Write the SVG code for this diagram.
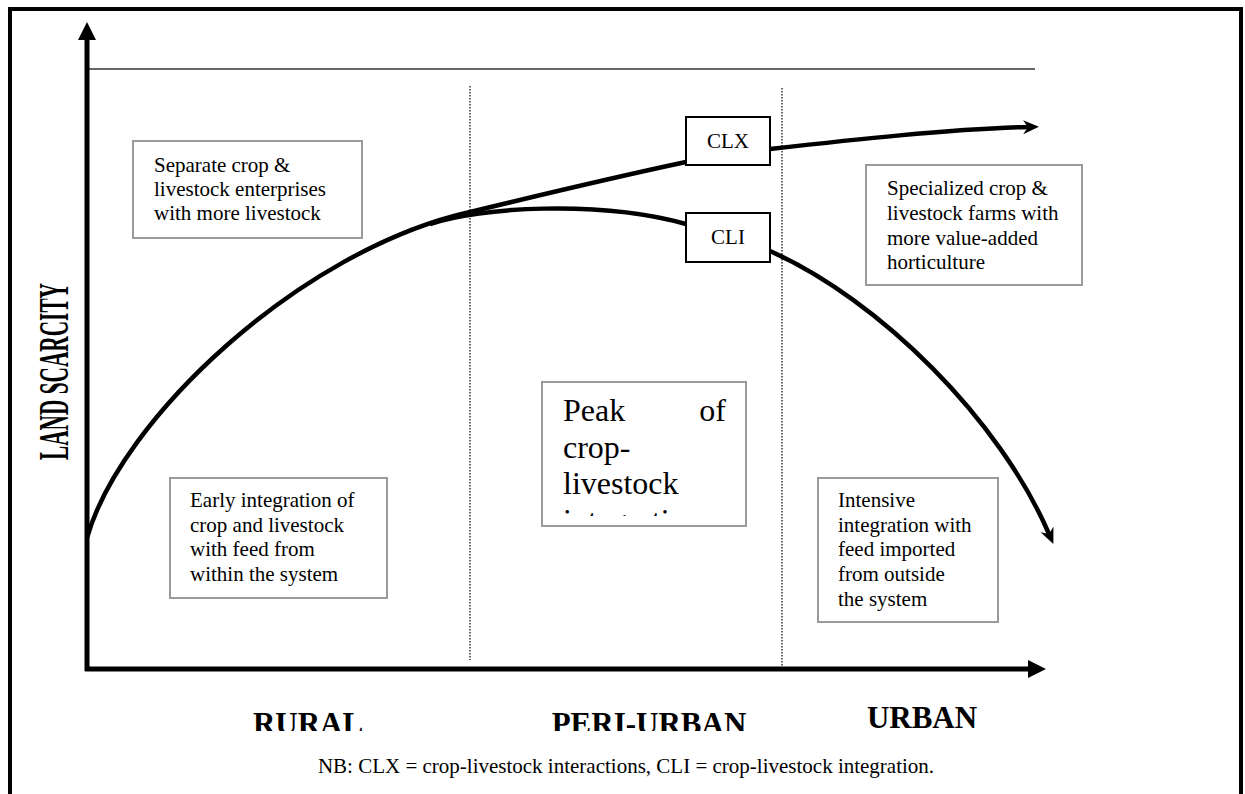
<svg xmlns="http://www.w3.org/2000/svg" width="1245" height="794" viewBox="0 0 1245 794">
  <style>
    text { font-family: "Liberation Serif", "Times New Roman", serif; fill: #000; }
    .body { font-size: 21px; }
    .zone { font-weight: bold; font-size: 31px; text-anchor: middle; }
    .note { fill: #fff; stroke: #9a9a9a; stroke-width: 2; }
    .tag { fill: #fff; stroke: #000; stroke-width: 2; }
    .tagtxt { font-size: 21px; text-anchor: middle; }
    .curve { fill: none; stroke: #000; stroke-width: 4.5; }
    .axis { stroke: #000; stroke-width: 5; fill: none; }
    .divider { stroke: #333; stroke-width: 1.5; stroke-dasharray: 1.5 1.5; }
  </style>
  <defs>
    <marker id="stealth" markerUnits="userSpaceOnUse" markerWidth="18" markerHeight="16" viewBox="0 0 18 16" refX="5" refY="7" orient="auto">
      <path d="M0,0 L16,7 L0,14 L5,7 z" fill="#000"/>
    </marker>
    <clipPath id="peakClip">
      <rect x="542" y="382" width="204" height="134"/>
    </clipPath>
    <clipPath id="zoneClip">
      <rect x="0" y="690" width="1245" height="41"/>
    </clipPath>
  </defs>

  <rect width="1245" height="794" fill="#fff"/>

  <!-- page frame -->
  <path d="M10,794 V9 H1241 V794" fill="none" stroke="#000" stroke-width="4"/>

  <!-- axes and guide lines -->
  <g id="axes">
    <line x1="87" y1="69" x2="1035" y2="69" stroke="#333" stroke-width="1.5"/>
    <line class="divider" x1="470" y1="86" x2="470" y2="660"/>
    <line class="divider" x1="782" y1="88" x2="782" y2="668"/>
    <line class="axis" x1="87" y1="671" x2="87" y2="38"/>
    <polygon points="78,40 96,40 87,22" fill="#000"/>
    <line class="axis" x1="85" y1="669" x2="1030" y2="669"/>
    <polygon points="1028,660 1028,678 1046,669" fill="#000"/>
    <text transform="translate(68,371.5) rotate(-90)" text-anchor="middle" font-size="42" font-weight="bold" textLength="177" lengthAdjust="spacingAndGlyphs">LAND SCARCITY</text>
  </g>

  <!-- trajectories -->
  <g id="connectors">
    <path id="clx-curve" class="curve" marker-end="url(#stealth)"
          d="M87,538 C120,420 300,250 470,212 C540,195 620,176 686,162 L770,149 C850,140 950,129 1028,127"/>
    <path id="cli-curve" class="curve" marker-end="url(#stealth)"
          d="M430,224 C480,207 600,200 686,224 L770,251 C880,300 1000,420 1049,534"/>
  </g>

  <!-- curve tags -->
  <g id="clx">
    <rect class="tag" x="686" y="117" width="84" height="48"/>
    <text class="tagtxt" x="728" y="148">CLX</text>
  </g>
  <g id="cli">
    <rect class="tag" x="686" y="213" width="84" height="49"/>
    <text class="tagtxt" x="728" y="244">CLI</text>
  </g>

  <!-- stage notes -->
  <g id="separate">
    <rect class="note" x="133" y="141" width="229" height="97"/>
    <text class="body" x="154" y="172">Separate crop &amp;</text>
    <text class="body" x="154" y="196">livestock enterprises</text>
    <text class="body" x="154" y="220">with more livestock</text>
  </g>
  <g id="early">
    <rect class="note" x="170" y="478" width="217" height="120"/>
    <text class="body" x="190" y="507">Early integration of</text>
    <text class="body" x="190" y="532">crop and livestock</text>
    <text class="body" x="190" y="556">with feed from</text>
    <text class="body" x="190" y="581">within the system</text>
  </g>
  <g id="peak">
    <rect class="note" x="542" y="382" width="204" height="144"/>
    <g clip-path="url(#peakClip)" font-size="32">
      <text x="563" y="421">Peak</text>
      <text x="726" y="421" text-anchor="end">of</text>
      <text x="563" y="458">crop-</text>
      <text x="563" y="494">livestock</text>
      <text x="563" y="531">integration</text>
    </g>
  </g>
  <g id="specialized">
    <rect class="note" x="866" y="165" width="216" height="120"/>
    <text class="body" x="887" y="195">Specialized crop &amp;</text>
    <text class="body" x="887" y="220">livestock farms with</text>
    <text class="body" x="887" y="245">more value-added</text>
    <text class="body" x="887" y="269">horticulture</text>
  </g>
  <g id="intensive">
    <rect class="note" x="818" y="478" width="180" height="144"/>
    <text class="body" x="838" y="507">Intensive</text>
    <text class="body" x="838" y="532">integration with</text>
    <text class="body" x="838" y="556">feed imported</text>
    <text class="body" x="838" y="581">from outside</text>
    <text class="body" x="838" y="606">the system</text>
  </g>

  <!-- zone labels -->
  <g id="zones">
    <g clip-path="url(#zoneClip)">
      <text class="zone" x="308" y="734">RURAL</text>
      <text class="zone" x="649" y="734">PERI-URBAN</text>
    </g>
    <text class="zone" x="922" y="728" font-size="26">URBAN</text>
  </g>

  <text id="footnote" x="626" y="773" font-size="21" text-anchor="middle">NB: CLX = crop-livestock interactions, CLI = crop-livestock integration.</text>
</svg>
